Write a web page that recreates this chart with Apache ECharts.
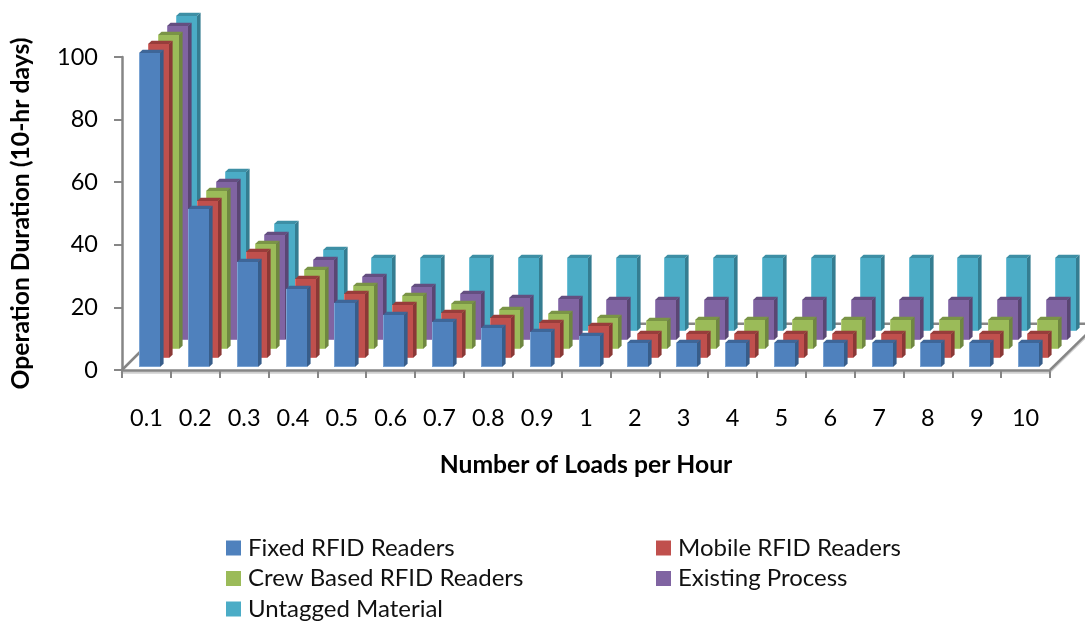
<!DOCTYPE html>
<html>
<head>
<meta charset="utf-8">
<style>html,body{margin:0;padding:0;background:#fff}#c{width:1085px;height:622px}</style>
<script src="https://cdn.jsdelivr.net/npm/echarts@6/dist/echarts.min.js"></script>
</head>
<body>
<div id="c"></div>
<script>
const categories = ['0.1','0.2','0.3','0.4','0.5','0.6','0.7','0.8','0.9','1','2','3','4','5','6','7','8','9','10'];
const fixedReaders   = [100.2,50.4,33.6,25.0,20.3,16.6,14.5,12.6,11.3,10.0,7.6,7.6,7.6,7.6,7.6,7.6,7.6,7.6,7.6];
const mobileReaders  = [100.3,50.3,33.8,25.2,20.3,16.9,14.5,12.7,11.3,10.2,7.7,7.7,7.7,7.7,7.7,7.7,7.7,7.7,7.7];
const crewReaders    = [100.3,50.3,33.4,25.1,20.1,16.9,14.3,12.5,11.3,10.0,9.0,9.1,9.1,9.1,9.1,9.1,9.1,9.1,9.1];
const existingProcess= [100.2,50.3,33.5,25.5,20.2,16.9,14.7,13.3,13.0,12.8,12.7,12.7,12.7,12.7,12.7,12.7,12.7,12.7,12.7];
const untagged       = [100.7,50.8,34.1,25.9,23.3,23.1,23.2,23.2,23.2,23.2,23.2,23.2,23.2,23.2,23.2,23.2,23.2,23.2,23.2];

const FONT = 'Lato';
const DEPTH_X = 9.25, DEPTH_Y = 9.05, SIDE_X = 3.6, SIDE_Y = 3.3;
const BAR_W = 21, BAR_OFF_X = -7.4, BAR_OFF_Y = 3;

// drawn back to front: depth 4 is farthest
const layers = [
  {name:'Untagged Material',      values:untagged,        depth:4, front:'#4BACC6', side:'#357D91', top:'#3D8FA5', edge:'#6DBFD6'},
  {name:'Existing Process',       values:existingProcess, depth:3, front:'#8064A2', side:'#5A4673', top:'#644E80', edge:'#9A82B8'},
  {name:'Crew Based RFID Readers',values:crewReaders,     depth:2, front:'#9BBB59', side:'#6F8740', top:'#7A9446', edge:'#B3CE78'},
  {name:'Mobile RFID Readers',    values:mobileReaders,   depth:1, front:'#C0504D', side:'#8A3836', top:'#983D3B', edge:'#D4716E'},
  {name:'Fixed RFID Readers',     values:fixedReaders,    depth:0, front:'#4F81BD', side:'#375D8A', top:'#3E6698', edge:'#7AA3D3'}
];

function barRenderer(layer){
  return function(params, api){
    const idx = api.value(0), val = api.value(1);
    const base = api.coord([idx, 0]), head = api.coord([idx, val]);
    const l = Math.round(base[0] + BAR_OFF_X + layer.depth*DEPTH_X);
    const b = Math.round(base[1] - BAR_OFF_Y - layer.depth*DEPTH_Y);
    const t = Math.round(head[1] - BAR_OFF_Y - layer.depth*DEPTH_Y);
    const r = l + BAR_W;
    return {type:'group', children:[
      {type:'polygon', shape:{points:[[l,t],[r,t],[r+SIDE_X,t-SIDE_Y],[l+SIDE_X,t-SIDE_Y]]}, style:{fill:layer.top}},
      {type:'polygon', shape:{points:[[r,t],[r+SIDE_X,t-SIDE_Y],[r+SIDE_X,b-SIDE_Y],[r,b]]}, style:{fill:layer.side}},
      {type:'rect', shape:{x:l,y:t,width:BAR_W,height:b-t}, style:{fill:layer.front}},
      {type:'line', shape:{x1:l+0.5,y1:t,x2:l+0.5,y2:b}, style:{stroke:layer.edge,lineWidth:1}},
      {type:'line', shape:{x1:l,y1:b-0.5,x2:r,y2:b-0.5}, style:{stroke:layer.edge,lineWidth:1}}
    ]};
  };
}

function floorRenderer(params, api){
  const n = categories.length;
  const o = api.coord([0,0]), band = api.size([1,0])[0];
  const x0 = o[0]-band/2, x1 = x0 + n*band, y0 = o[1];
  const dx = 5*DEPTH_X, dy = 5*DEPTH_Y;
  const st = {stroke:'#868686', lineWidth:2.5};
  const lt = {stroke:'#D0D0D0', lineWidth:1.5};
  return {type:'group', children:[
    {type:'line', shape:{x1:x0,y1:y0,x2:x0+18,y2:y0-18}, style:st},
    {type:'line', shape:{x1:x1+1,y1:y0+1.5,x2:x1+dx+1,y2:y0-dy+1.5}, style:lt},
    {type:'line', shape:{x1:x1,y1:y0,x2:x1+dx,y2:y0-dy}, style:st},
    {type:'line', shape:{x1:x0+10.5*band,y1:y0-dy-1,x2:x1+dx,y2:y0-dy-1}, style:st}
  ]};
}

const legendText = {fontFamily:FONT,fontSize:24,color:'#111',padding:[0,0,0,2]};
const chart = echarts.init(document.getElementById('c'));
chart.setOption({
  animation:false,
  backgroundColor:'#fff',
  textStyle:{fontFamily:FONT},
  legend:[
    {data:['Fixed RFID Readers','Crew Based RFID Readers','Untagged Material'],
     orient:'vertical',left:221,top:531,height:110,itemWidth:15,itemHeight:15,itemGap:6.5,icon:'rect',
     selectedMode:false,textStyle:legendText},
    {data:['Mobile RFID Readers','Existing Process'],
     orient:'vertical',left:651,top:531,height:110,itemWidth:15,itemHeight:15,itemGap:6.5,icon:'rect',
     selectedMode:false,textStyle:legendText}
  ],
  grid:{left:122,right:35,top:57,bottom:252,containLabel:false},
  xAxis:{type:'category',data:categories,boundaryGap:true,
    name:'Number of Loads per Hour',nameLocation:'middle',nameGap:83,
    nameTextStyle:{fontFamily:FONT,fontWeight:'bold',fontSize:24.7,color:'#000'},
    axisLine:{lineStyle:{color:'#868686',width:2.5,shadowColor:'#D0D0D0',shadowOffsetY:2,shadowBlur:0}},
    axisTick:{show:true,length:8,alignWithLabel:false,lineStyle:{color:'#868686',width:2}},
    axisLabel:{interval:0,margin:36,fontFamily:FONT,fontSize:23.5,color:'#000'},
    splitLine:{show:false}},
  yAxis:{type:'value',min:0,max:100,interval:20,
    name:'Operation Duration (10-hr days)',nameLocation:'middle',nameGap:88,
    nameTextStyle:{fontFamily:FONT,fontWeight:'bold',fontSize:24.7,color:'#000'},
    axisLine:{show:true,lineStyle:{color:'#868686',width:2.5}},
    axisTick:{show:true,length:8,lineStyle:{color:'#868686',width:2}},
    axisLabel:{margin:24,fontFamily:FONT,fontSize:23.5,color:'#000'},
    splitLine:{show:false}},
  series:[
    {type:'custom',name:'floor',data:[[0,0]],clip:false,silent:true,renderItem:floorRenderer,encode:{x:0,y:1},z:1}
  ].concat(layers.map(layer=>({
    type:'custom',name:layer.name,clip:false,z:2,
    itemStyle:{color:layer.front},
    encode:{x:0,y:1},
    data:layer.values.map((v,i)=>[i,v]),
    renderItem:barRenderer(layer)
  })))
});
</script>
</body>
</html>
